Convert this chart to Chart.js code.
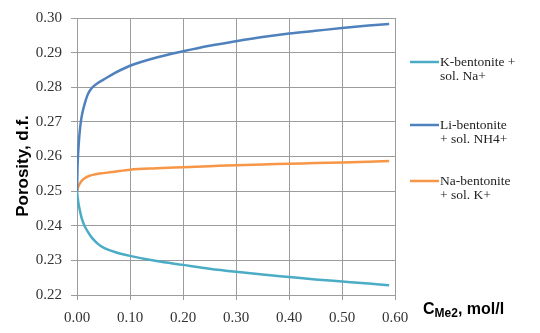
<!DOCTYPE html>
<html lang="en">
<head>
  <meta charset="UTF-8">
  <title>Porosity vs concentration</title>
  <script src="https://cdn.jsdelivr.net/npm/chart.js"></script>
  <style>
    body { margin: 0; background: #ffffff; }
    #wrap { width: 540px; height: 333px; }
  </style>
</head>
<body>
  <div id="wrap"><canvas id="porosityChart" width="540" height="333"></canvas></div>

  <script>
    // concentration, mol/l
    const concentration = [0, 0.001, 0.002, 0.003, 0.005, 0.0075, 0.01, 0.015, 0.02, 0.025, 0.03, 0.04, 0.05, 0.07,
      0.1, 0.15, 0.2, 0.25, 0.3, 0.35, 0.4, 0.45, 0.5, 0.55, 0.589];

    // porosity, d.f.
    const kBentonite = [0.25, 0.2485, 0.2473, 0.2463, 0.2447, 0.2430, 0.2416, 0.2397, 0.2384, 0.2372, 0.2362, 0.2347, 0.2337, 0.2325,
      0.2313, 0.2298, 0.2287, 0.2276, 0.2267, 0.2259, 0.2252, 0.2245, 0.2239, 0.2233, 0.2228];
    const liBentonite = [0.25, 0.2570, 0.2605, 0.2630, 0.2670, 0.2703, 0.2725, 0.2755, 0.2778, 0.2792, 0.2801, 0.2813, 0.2822, 0.2840,
      0.2862, 0.2886, 0.2904, 0.2920, 0.2933, 0.2945, 0.2955, 0.2963, 0.2971, 0.2978, 0.2983];
    const naBentonite = [0.25, 0.2506, 0.2511, 0.2515, 0.2521, 0.2527, 0.2532, 0.2538, 0.2542, 0.2545, 0.2547, 0.2550, 0.2552, 0.2556,
      0.2562, 0.2566, 0.2569, 0.2572, 0.2575, 0.2577, 0.2579, 0.2581, 0.2583, 0.2585, 0.2587];

    const seriesLabels = [
      ['K-bentonite +', 'sol. Na+'],
      ['Li-bentonite', '+ sol. NH4+'],
      ['Na-bentonite', '+ sol. K+']
    ];
    const seriesColors = ['#4BACC6', '#4F81BD', '#F79646'];

    const yTicks = [0.22, 0.23, 0.24, 0.25, 0.26, 0.27, 0.28, 0.29, 0.30];
    const xTicks = [0, 0.1, 0.2, 0.3, 0.4, 0.5, 0.6];

    const serif = "'Liberation Serif', 'Times New Roman', serif";
    const sans = "'Liberation Sans', Arial, sans-serif";

    function toPoints(ys) {
      return concentration.map((x, i) => ({ x: x, y: ys[i] }));
    }

    // legend on the right, two lines of text per item
    const sideLegend = {
      id: 'sideLegend',
      afterDraw(chart) {
        const ctx = chart.ctx;
        const rowY = [62, 125, 181];
        const x0 = chart.chartArea.right + 15;
        ctx.save();
        ctx.font = '13.5px ' + serif;
        ctx.fillStyle = '#222';
        ctx.textBaseline = 'middle';
        chart.data.datasets.forEach((ds, i) => {
          ctx.strokeStyle = ds.borderColor;
          ctx.lineWidth = 2.5;
          ctx.beginPath();
          ctx.moveTo(x0, rowY[i]);
          ctx.lineTo(x0 + 29, rowY[i]);
          ctx.stroke();
          seriesLabels[i].forEach((line, j) => {
            ctx.fillText(line, x0 + 30, rowY[i] + j * 14.5);
          });
        });
        ctx.restore();
      }
    };

    // axis titles
    const axisTitles = {
      id: 'axisTitles',
      afterDraw(chart) {
        const ctx = chart.ctx;
        ctx.save();
        ctx.fillStyle = '#000';
        ctx.textBaseline = 'alphabetic';

        // y title
        ctx.save();
        ctx.translate(27.5, 166);
        ctx.rotate(-Math.PI / 2);
        ctx.textAlign = 'center';
        ctx.font = 'bold 17px ' + sans;
        ctx.fillText('Porosity, d.f.', 0, 0);
        ctx.restore();

        // x title: C with subscript Me2
        let x = chart.chartArea.right + 28;
        const y = 314;
        ctx.textAlign = 'left';
        ctx.font = 'bold 16px ' + sans;
        ctx.fillText('C', x, y);
        x += ctx.measureText('C').width;
        ctx.font = 'bold 12px ' + sans;
        ctx.fillText('Me2', x, y + 3);
        x += ctx.measureText('Me2').width;
        ctx.font = 'bold 16px ' + sans;
        ctx.fillText(', mol/l', x, y);
        ctx.restore();
      }
    };

    new Chart(document.getElementById('porosityChart'), {
      type: 'line',
      data: {
        datasets: [
          { label: seriesLabels[0].join(' '), data: toPoints(kBentonite), borderColor: seriesColors[0] },
          { label: seriesLabels[1].join(' '), data: toPoints(liBentonite), borderColor: seriesColors[1] },
          { label: seriesLabels[2].join(' '), data: toPoints(naBentonite), borderColor: seriesColors[2] }
        ]
      },
      options: {
        responsive: false,
        animation: false,
        layout: { padding: { left: 0, top: 15, right: 145, bottom: 0 } },
        elements: {
          line: { borderWidth: 2.5, cubicInterpolationMode: 'monotone', fill: false },
          point: { radius: 0 }
        },
        plugins: {
          legend: { display: false },
          tooltip: { enabled: false }
        },
        scales: {
          x: {
            type: 'linear',
            min: 0,
            max: 0.6,
            afterFit(scale) { scale.height = 38; },
            afterBuildTicks(scale) { scale.ticks = xTicks.map(v => ({ value: v })); },
            grid: { color: '#9c9c9c', lineWidth: 1, tickLength: 5 },
            border: { color: '#9c9c9c', width: 1 },
            ticks: {
              padding: 9,
              maxRotation: 0,
              color: '#333',
              font: { family: serif, size: 15 },
              callback: v => v.toFixed(2)
            }
          },
          y: {
            min: 0.22,
            max: 0.30,
            afterFit(scale) { scale.width = 77; },
            afterBuildTicks(scale) { scale.ticks = yTicks.map(v => ({ value: v })); },
            grid: { color: '#9c9c9c', lineWidth: 1, tickLength: 6 },
            border: { color: '#9c9c9c', width: 1 },
            ticks: {
              padding: 9,
              color: '#333',
              font: { family: serif, size: 15 },
              callback: v => v.toFixed(2)
            }
          }
        }
      },
      plugins: [sideLegend, axisTitles]
    });
  </script>
</body>
</html>
